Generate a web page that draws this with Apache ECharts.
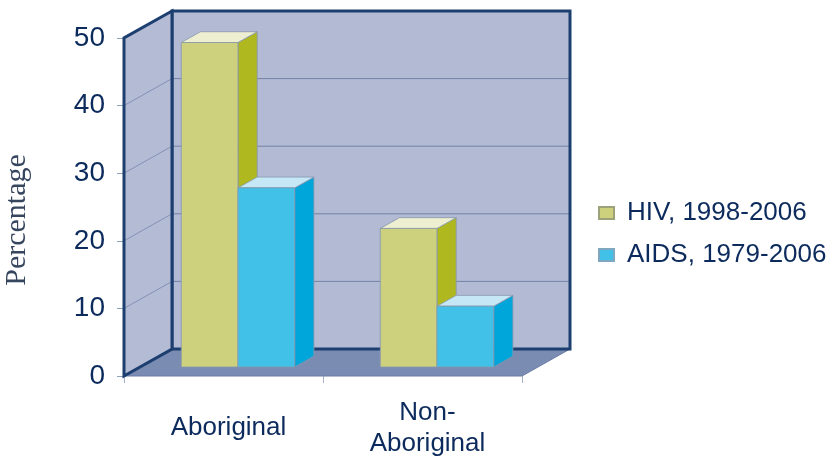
<!DOCTYPE html>
<html>
<head>
<meta charset="utf-8">
<script src="https://cdn.jsdelivr.net/npm/echarts@6/dist/echarts.min.js"></script>
<style>
  html, body { margin: 0; padding: 0; background: #fff; }
  #main { width: 836px; height: 461px; }
</style>
</head>
<body>
<div id="main"></div>
<script>
// data
var categories = ["Aboriginal", "Non-\nAboriginal"];
var hivValues = [48, 20.5];
var aidsValues = [26.5, 9];
var seriesNames = ["HIV, 1998-2006", "AIDS, 1979-2006"];
var gridValues = [10, 20, 30, 40];

// 3d look: full depth of the box and where the bars sit in it
var DEPTH = [48, -27];
var BAR_START = 0.333; // bars start one third back
var BAR_DEPTH = 0.4;

var chart = echarts.init(document.getElementById("main"));

var toPairs = function (vals) {
  var out = [];
  for (var i = 0; i < vals.length; i++) out.push([i, vals[i]]);
  return out;
};

// back wall, side wall and floor
var renderFrame = function (params, api) {
  var band = api.size([1, 0])[0];
  var b0 = api.coord([0, 0]);
  var t0 = api.coord([0, 50]);
  var b1 = api.coord([categories.length - 1, 0]);
  var left = b0[0] - band / 2;
  var right = b1[0] + band / 2;
  var yb = b0[1], yt = t0[1];
  var dx = DEPTH[0], dy = DEPTH[1];
  var children = [];
  // floor
  children.push({
    type: "polygon",
    shape: { points: [[left, yb], [right, yb], [right + dx, yb + dy], [left + dx, yb + dy]] },
    style: { fill: "#7b8cb2", stroke: "#6a7ca6", lineWidth: 1 }
  });
  // back wall
  children.push({
    type: "polygon",
    shape: { points: [[left + dx, yb + dy], [right + dx, yb + dy], [right + dx, yt + dy], [left + dx, yt + dy]] },
    style: { fill: "#b2bad4", stroke: "none" }
  });
  // grid lines on back wall + side wall
  for (var i = 0; i < gridValues.length; i++) {
    var y = api.coord([0, gridValues[i]])[1];
    children.push({
      type: "line",
      shape: { x1: left + dx, y1: y + dy, x2: right + dx, y2: y + dy },
      style: { stroke: "#7482a6", lineWidth: 1 }
    });
  }
  children.push({
    type: "polygon",
    shape: { points: [[left + dx, yb + dy], [right + dx, yb + dy], [right + dx, yt + dy], [left + dx, yt + dy]] },
    style: { fill: "none", stroke: "#1d3f70", lineWidth: 3 }
  });
  // side wall
  children.push({
    type: "polygon",
    shape: { points: [[left, yb], [left, yt], [left + dx, yt + dy], [left + dx, yb + dy]] },
    style: { fill: "#b4bbd5", stroke: "none" }
  });
  for (var j = 0; j < gridValues.length; j++) {
    var yy = api.coord([0, gridValues[j]])[1];
    children.push({
      type: "line",
      shape: { x1: left, y1: yy, x2: left + dx, y2: yy + dy },
      style: { stroke: "#8391b6", lineWidth: 1 }
    });
  }
  children.push({
    type: "polygon",
    shape: { points: [[left, yb], [left, yt], [left + dx, yt + dy], [left + dx, yb + dy]] },
    style: { fill: "none", stroke: "#1d3f70", lineWidth: 3, lineJoin: "miter" }
  });
  return { type: "group", children: children, silent: true };
};

// one 3d box per value
var makeBar = function (side, front, flank, lid) {
  return function (params, api) {
    var cat = api.value(0), v = api.value(1);
    var base = api.coord([cat, 0]);
    var top = api.coord([cat, v]);
    var band = api.size([1, 0])[0];
    var w = band * 0.285;
    var ox = DEPTH[0] * BAR_START, oy = DEPTH[1] * BAR_START;
    var dx = DEPTH[0] * BAR_DEPTH, dy = DEPTH[1] * BAR_DEPTH;
    var x0 = (side === 0 ? base[0] - w : base[0]) - 1.5 + ox;
    var x1 = x0 + w;
    var yb = base[1] + oy, yt = top[1] + oy;
    var edge = { stroke: "#8797ad", lineWidth: 0.8 };
    return {
      type: "group",
      children: [
        { type: "polygon", shape: { points: [[x1, yb], [x1, yt], [x1 + dx, yt + dy], [x1 + dx, yb + dy]] },
          style: Object.assign({ fill: flank }, edge) },
        { type: "polygon", shape: { points: [[x0, yt], [x1, yt], [x1 + dx, yt + dy], [x0 + dx, yt + dy]] },
          style: Object.assign({ fill: lid }, edge) },
        { type: "rect", shape: { x: x0, y: yt, width: w, height: yb - yt },
          style: Object.assign({ fill: front }, edge) }
      ]
    };
  };
};

var option = {
  animation: false,
  grid: { left: 124, right: 314, top: 38, bottom: 85 },
  legend: {
    orient: "vertical",
    left: 598,
    top: 198,
    padding: 0,
    icon: "rect",
    itemWidth: 15,
    itemHeight: 12,
    itemGap: 12,
    data: seriesNames,
    textStyle: { fontFamily: "Liberation Sans", fontSize: 26, color: "#0c2b5c", lineHeight: 30, padding: [0, 0, 0, 8] }
  },
  xAxis: {
    type: "category",
    data: categories,
    axisLine: { show: false },
    axisTick: { show: true, length: 7, lineStyle: { color: "#a3b0c8" } },
    axisLabel: {
      fontFamily: "Liberation Sans",
      fontSize: 26,
      lineHeight: 31,
      color: "#0c2b5c",
      verticalAlign: "middle",
      padding: [0, 0, 0, 10],
      margin: 52
    },
    splitLine: { show: false }
  },
  yAxis: {
    type: "value",
    min: 0,
    max: 50,
    interval: 10,
    name: "Percentage",
    nameLocation: "middle",
    nameRotate: 90,
    nameGap: 92,
    nameTextStyle: { fontFamily: "Liberation Serif", fontSize: 30, color: "#37465f", padding: [0, 26, 0, 0] },
    axisLine: { show: false },
    axisTick: { show: true, length: 7, lineStyle: { color: "#8fa0c0" } },
    axisLabel: { fontFamily: "Liberation Sans", fontSize: 28, color: "#0c2b5c", margin: 19 },
    splitLine: { show: false }
  },
  series: [
    {
      name: "frame",
      type: "custom",
      silent: true,
      z: 1,
      renderItem: renderFrame,
      data: [[0, 0]],
      encode: { x: 0, y: 1 }
    },
    {
      name: seriesNames[0],
      type: "custom",
      z: 2,
      itemStyle: { color: "#cdd07c", borderColor: "#9da27a", borderWidth: 1 },
      renderItem: makeBar(0, "#cdd07c", "#afb91f", "#eeefd1"),
      data: toPairs(hivValues),
      encode: { x: 0, y: 1 }
    },
    {
      name: seriesNames[1],
      type: "custom",
      z: 3,
      itemStyle: { color: "#41c1e8", borderColor: "#7fa7c0", borderWidth: 1 },
      renderItem: makeBar(1, "#41c1e8", "#00a5da", "#c6e8f6"),
      data: toPairs(aidsValues),
      encode: { x: 0, y: 1 }
    }
  ]
};

chart.setOption(option);
window.onresize = function () {
  chart.resize();
};
</script>
</body>
</html>
